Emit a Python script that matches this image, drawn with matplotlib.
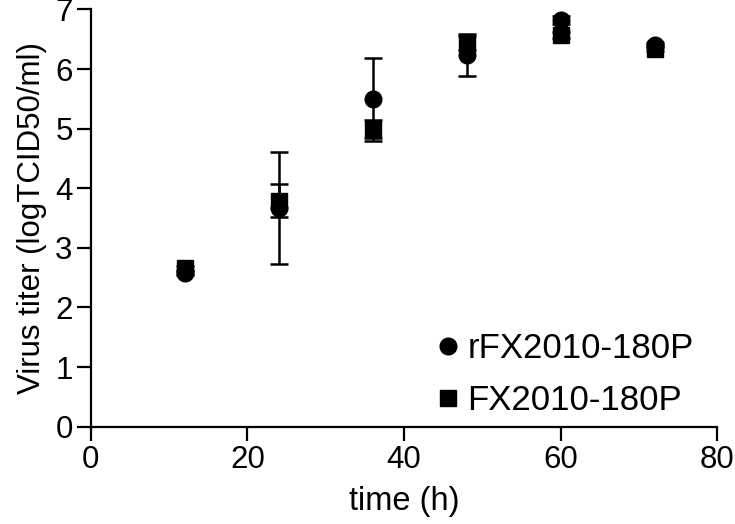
import matplotlib.pyplot as plt

plt.rcParams['font.family'] = ['Liberation Sans', 'DejaVu Sans']

# hours post infection
tiempo = [12, 24, 36, 48, 60, 72]

# rFX2010-180P
titer_r = [2.58, 3.67, 5.49, 6.23, 6.82, 6.41]
err_r = [0.03, 0.94, 0.70, 0.35, 0.07, 0.03]

# FX2010-180P
titer_fx = [2.66, 3.79, 4.99, 6.44, 6.57, 6.33]
err_fx = [0.03, 0.28, 0.15, 0.12, 0.05, 0.03]

fig = plt.figure(figsize=(7.35, 5.24), dpi=100)
ax = fig.add_axes([0.1234, 0.1857, 0.8526, 0.7963])

ax.errorbar(tiempo, titer_r, yerr=err_r, fmt='o', color='black', ms=12,
            capsize=6.5, elinewidth=1.8, capthick=1.8, label='rFX2010-180P')
ax.errorbar(tiempo, titer_fx, yerr=err_fx, fmt='s', color='black', ms=12,
            capsize=6.5, elinewidth=1.8, capthick=1.8, label='FX2010-180P')

ax.set_xlim(0, 80)
ax.set_ylim(0, 7)
ax.set_xticks([0, 20, 40, 60, 80])
ax.set_yticks(range(8))
ax.spines['top'].set_visible(False)
ax.spines['right'].set_visible(False)
for s in ['left', 'bottom']:
    ax.spines[s].set_linewidth(1.6)
ax.tick_params(direction='out', length=10, width=1.6, labelsize=22.5, pad=3)

ax.set_xlabel('time (h)', fontsize=23.5, labelpad=8)
ax.set_ylabel('Virus titer (logTCID50/ml)', fontsize=22.5, labelpad=6)

handles, labels = ax.get_legend_handles_labels()
handles = [h[0] for h in handles]
ax.legend(handles, labels, loc='lower left', bbox_to_anchor=(0.51, -0.035),
          frameon=False, fontsize=25, handletextpad=0.15, labelspacing=0.55,
          handlelength=0.8, borderaxespad=0.3)

fig.savefig('out.png', dpi=100)
